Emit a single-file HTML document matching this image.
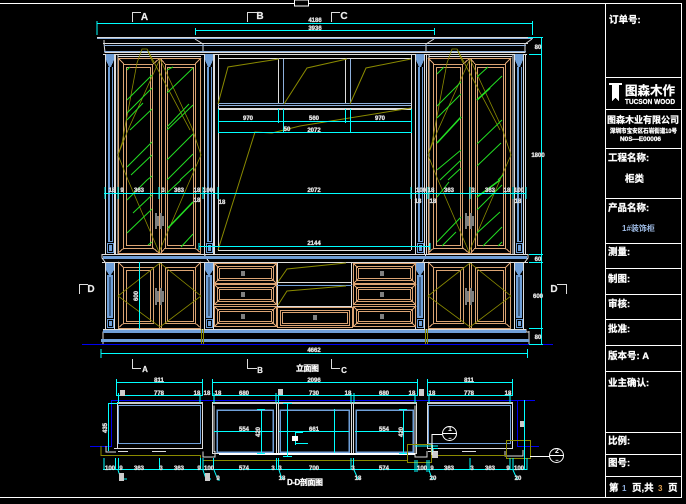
<!DOCTYPE html>
<html><head><meta charset="utf-8"><style>
html,body{margin:0;padding:0;background:#000;width:686px;height:504px;overflow:hidden}
svg{display:block}
.t{font:bold 6px "Liberation Sans",sans-serif;fill:#ddd;stroke:#ddd;stroke-width:.35;text-anchor:middle}
.s{font:bold 10px "Liberation Sans",sans-serif;fill:#eee;stroke:#eee;stroke-width:.2;text-anchor:middle}
.c{font:bold 9.500px "Liberation Sans","Noto Sans CJK SC",sans-serif;fill:#fff;stroke:#fff;stroke-width:.25}
</style></head><body>
<svg width="686" height="504" viewBox="0 0 686 504" xmlns="http://www.w3.org/2000/svg" fill="none" shape-rendering="crispEdges">
<defs>
<g id="ud">
<g stroke="#dba474">
<rect x="118.5" y="58.5" width="82" height="195"/>
<rect x="123.5" y="64.5" width="29" height="184"/><rect x="126.5" y="67.5" width="24" height="178"/>
<rect x="165.5" y="64.5" width="30" height="184"/><rect x="167.5" y="67.5" width="26" height="178"/>
<path d="M159.5 58v195M161.5 58v195M118 58l6 6M201 58l-6 6M118 253l6-5M201 253l-6-5M153 64l6-5M165 64l-4-5M153 248l6 5M165 248l-4 5"/>
</g>
<path stroke="#8a8a00" stroke-width=".8" d="M160 59L128 130L118 155L128 180L159 252L190 180L201 155L192 128L160 59M137 63L122 143L118 155M153 63L147 49H142L137 63M147 49L190 130" shape-rendering="auto"/>
<g fill="#808080"><rect x="155" y="213" width="2" height="16"/><rect x="157" y="216" width="2" height="10"/><rect x="160" y="213" width="2" height="16"/><rect x="162" y="216" width="2" height="10"/></g>
</g>
<g id="ld">
<g stroke="#dba474">
<rect x="118.5" y="262.5" width="82" height="66"/>
<rect x="123.5" y="267.5" width="30" height="56"/><rect x="126.5" y="270.5" width="24" height="51"/>
<rect x="165.5" y="267.5" width="30" height="56"/><rect x="167.5" y="270.5" width="26" height="51"/>
<path d="M159.5 262v66M161.5 262v66M118 262l6 6M201 262l-6 6M118 328l6-5M201 328l-6-5"/>
</g>
<path stroke="#8a8a00" stroke-width=".8" d="M160 263L118 296L160 327L201 296Z" shape-rendering="auto"/>
<g fill="#808080"><rect x="155" y="288" width="2" height="17"/><rect x="157" y="291" width="2" height="11"/><rect x="160" y="288" width="2" height="17"/><rect x="162" y="291" width="2" height="11"/></g>
</g>
<g id="pil">
<path stroke="#ddd" d="M105.500 54v200M114.500 54v200M105.500 262v67M114.500 262v67"/>
<path fill="#6f9fd8" d="M106 54H114V60L111 67H109L106 60Z"/>
<rect x="108" y="67" width="2" height="174" fill="#6f9fd8"/>
<path stroke="#6f9fd8" d="M112.500 67v174M108 241.500h5"/>
<rect x="107.500" y="243.500" width="6" height="9" stroke="#6f9fd8"/><rect x="109" y="245" width="3" height="6" fill="#6f9fd8"/>
<path fill="#6f9fd8" d="M106 263H114V270L111 275H109L106 270Z"/>
<rect x="107" y="275" width="6" height="43" fill="#6f9fd8"/><rect x="109.500" y="277" width="1" height="39" fill="#123"/>
<rect x="107.500" y="319.500" width="6" height="8" stroke="#6f9fd8"/><rect x="109" y="321" width="3" height="5" fill="#6f9fd8"/>
</g>
<g id="dr">
<rect x="214.500" y="263.500" width="62" height="20" stroke="#dba474"/>
<rect x="217.500" y="266.500" width="56" height="14" stroke="#dba474"/>
<rect x="219.500" y="268.500" width="52" height="10" stroke="#dba474"/>
<path stroke="#dba474" d="M214 263l5 5M277 263l-5 5M214 284l5-5M277 284l-5-5"/>
<rect x="241" y="271" width="4" height="5" fill="#808080"/>
</g>
<g id="uni">
<rect x="117.500" y="402.500" width="85" height="46" stroke="#ddd"/>
<rect x="117" y="402" width="86" height="2" fill="#ccc"/>
<rect x="118.500" y="405.500" width="82" height="38" stroke="#6f9fd8"/>
<path stroke="#ddd" d="M118 451.500h10M152 451.500h14"/>
</g>
</defs>

<!-- frame -->
<g stroke="#fff">
<path d="M0 3.500H681.500V497.500H0M605.500 3.500V497.500M605.500 77.500H681.500M605.500 109.500H681.500M605.500 148.500H681.500M605.500 198.500H681.500M605.500 243.500H681.500M605.500 268.500H681.500M605.500 294.500H681.500M605.500 319.500H681.500M605.500 345.500H681.500M605.500 371.500H681.500M605.500 432.500H681.500M605.500 454.500H681.500M605.500 476.500H681.500"/>
<rect x="294.500" y="0" width="14" height="6" fill="#000"/>
</g>

<!-- title block -->
<text class="c" x="609" y="23">订单号:</text>
<path fill="#fff" d="M609 83H622V85H619V101L615.500 98L612 101V85H609Z"/>
<text class="c" x="625" y="95" style="font-size:12.500px">图森木作</text>
<text class="c" x="625" y="104" style="font-size:7px;font-weight:bold" textLength="50" lengthAdjust="spacingAndGlyphs">TUCSON WOOD</text>
<text class="c" x="607" y="123" style="font-size:9px" textLength="72">图森木业有限公司</text>
<text class="c" x="610" y="133" style="font-size:6px" textLength="67" lengthAdjust="spacingAndGlyphs">深圳市宝安区石岩街道10号</text>
<text class="c" x="620" y="141" style="font-size:6px" textLength="41" lengthAdjust="spacingAndGlyphs">N0S—E00006</text>
<text class="c" x="608" y="161">工程名称:</text>
<text class="c" x="625" y="182">柜类</text>
<text class="c" x="608" y="211">产品名称:</text>
<text class="c" x="622" y="231" style="fill:#9fbce6;stroke:none;font-size:8px;font-weight:bold">1#装饰柜</text>
<text class="c" x="608" y="255">测量:</text>
<text class="c" x="608" y="282">制图:</text>
<text class="c" x="608" y="307">审核:</text>
<text class="c" x="608" y="332">批准:</text>
<text class="c" x="608" y="359">版本号: A</text>
<text class="c" x="608" y="386">业主确认:</text>
<text class="c" x="608" y="444">比例:</text>
<text class="c" x="608" y="466">图号:</text>
<text class="c" x="609" y="491">第</text><text class="c" x="622" y="491" style="fill:#8fb0e0;stroke:none;font-size:8px">1</text>
<text class="c" x="632" y="491">页,共</text><text class="c" x="658" y="491" style="fill:#e0a050;stroke:none;font-size:8px">3</text><text class="c" x="668" y="491">页</text>

<!-- cornice -->
<g stroke="#ddd">
<path d="M97 37.500H533M103 43.500H528M104.500 52.500H525M103 54.500H527"/>
<path d="M104 40Q104 45 105 52M195 39L203 44V53M434 39L426 44V53M532 39L525 44V53" shape-rendering="auto"/>
</g>
<g stroke="#8db0dc"><path d="M97 38.500H533M104 45.500H526M104 51.500H526"/></g>

<!-- middle upper -->
<g stroke="#ddd">
<path d="M115.500 54v200M118 54v200M214.500 54v200M218.500 54v196M411.500 54v196M426.500 54v200M429 54v200M513 54v200M525.500 54v200"/>
<path d="M218 58.500H411M218 108.500H411M218 109.500H411M218 250.500H411M118 56.500H201M429 56.500H512"/>
<path d="M278.500 59v44M345.500 59v44"/>
</g>
<g stroke="#8db0dc"><path d="M218 103.500H411M218 105.500H411M283.500 59v44M350.500 59v44"/></g>

<!-- olive glass marks -->
<g stroke="#8a8a00" shape-rendering="auto">
<path d="M218 104L228 67L279 59M284 104L307 68L347 59M350 104L366 68L411 59"/>
<path d="M218 250L255 132L272 133L300 126L411 108"/>
</g>

<!-- doors -->
<use href="#ud"/><use href="#ud" x="310"/>
<use href="#ld"/><use href="#ld" x="310"/>
<!-- green hatch -->
<path stroke="#22dd22" shape-rendering="auto" d="M127 70L130 67M127 100L152 75M127 113L152 88M127 120L143 103M130 130L152 109M127 167L152 142M131 175L152 155M147 180L152 176M127 200L147 180M133 213L152 195M127 233L152 209M148 245L152 242M167 70L173 67M167 93L193 68M167 127L189 104M167 130L193 105M167 160L193 134M167 180L193 154M180 180L193 168M167 193L181 180M168 228L193 202M181 247L193 234M437 74L444 67M437 106L461 82M437 118L461 94M437 143L461 117M437 170L461 150M440 180L461 160M448 180L461 168M477 77L488 67M477 100L502 76M477 144L502 120M477 166L501 143M498 180L503 175M437 197L449 182M477 197L500 180M477 210L502 185M437 242L461 217M442 246L456 232M477 233L500 212M483 246L502 227M498 246L502 242"/>
<path stroke="#22dd22" stroke-width="1.600" shape-rendering="auto" d="M437 143L461 117M477 100L490 88M168 228L193 202M477 197L500 180"/>

<!-- pilasters -->
<use href="#pil"/><use href="#pil" x="99"/><use href="#pil" x="310"/><use href="#pil" x="409"/>

<!-- mid band -->
<g stroke="#ddd"><path d="M102 254.500H528M102 262.500H528M102 254v4l3 4M528 254v4l-3 4M204 254l5 8M426 254l-3 8"/></g>
<rect x="103" y="256" width="424" height="3" fill="#6f9fd8"/>

<!-- drawers -->
<use href="#dr"/><use href="#dr" y="21"/><use href="#dr" y="43"/>
<use href="#dr" x="139"/><use href="#dr" x="139" y="21"/><use href="#dr" x="139" y="43"/>
<rect x="277.500" y="307.500" width="75" height="20" stroke="#dba474"/>
<rect x="280.500" y="310.500" width="69" height="15" stroke="#dba474"/>
<rect x="282.500" y="312.500" width="65" height="11" stroke="#dba474"/>
<rect x="313" y="315" width="4" height="5" fill="#808080"/>
<g stroke="#ddd"><path d="M277.500 263v44M351.500 263v44M277 282.500H352M277 306.500H352"/></g>
<path stroke="#6f9fd8" d="M277 285.500H352"/>
<path stroke="#8a8a00" shape-rendering="auto" d="M278 282L287 269L346 263M278 305L287 291L346 286"/>

<!-- base -->
<g stroke="#ddd"><path d="M103 329.500H526M103 331.500V344M529 331V344M526 329v3h3"/></g>
<rect x="103" y="330" width="423" height="3" fill="#6f9fd8"/>
<rect x="101" y="339" width="428" height="3" fill="#6f9fd8"/>
<path stroke="#8a8a00" d="M201.500 329v15M203.500 329v15M425.500 329v15M427.500 329v15"/>
<path stroke="#0000f0" stroke-width="1" d="M82 344.500H553"/>

<!-- dims elevation -->
<g stroke="#00ffff">
<path d="M97 23.500H533M97 21v14M532.500 21v14M195 30.500H434M195.500 28v7M434.500 28v7"/>
<path d="M218 121.500H411M218 132.500H411M278.500 109v14M283.500 109v24M345.500 109v14M350.500 109v24M411.500 109v24M218.500 109v24"/>
<path d="M104 193.500H526M105 187v12M118 187v12M159 187v12M203 187v12M218 187v12M411 187v12M428 187v12M470 187v12M513 187v12M526 187v12"/>
<path d="M199 246.500H430M430 243v7M199 243v7"/>
<path d="M101 353.500H528M101 349v9M527.500 349v9"/>
<path d="M541.500 37V344M528 37.500H543M529 54.500H542M529 254.500H543M529 262.500H543M529 328.500H543M529 344.500H543"/>
<path d="M139.500 262V329"/>
</g>

<!-- section marks -->
<g stroke="#ddd">
<path d="M132.500 22V12.500H141M247.500 22V12.500H257M331.500 22V12.500H340"/>
<path d="M132.500 359V368.500H141M247.500 359V368.500H257M331.500 359V368.500H340"/>
<path d="M79.500 294V284.500H88M566.500 294V284.500H557"/>
</g>
<text class="s" x="144.500" y="20">A</text><text class="s" x="260" y="19">B</text><text class="s" x="344" y="19">C</text>
<text class="s" x="145" y="372" style="font-size:8px">A</text><text class="s" x="260" y="373" style="font-size:8px">B</text><text class="s" x="344" y="373" style="font-size:8px">C</text>
<text class="s" x="91" y="292">D</text><text class="s" x="554" y="292">D</text>
<text class="c" x="296" y="371" style="font-size:8px" textLength="23">立面图</text>

<!-- dim labels -->
<g>
<text class="t" x="315" y="22">4186</text><text class="t" x="315" y="30">3936</text>
<text class="t" x="248" y="120">970</text><text class="t" x="314" y="120">560</text><text class="t" x="380" y="120">970</text>
<text class="t" x="287" y="131">50</text><text class="t" x="314" y="132">2072</text>
<text class="t" x="538" y="49">80</text><text class="t" x="538" y="157">1800</text><text class="t" x="538" y="261">60</text><text class="t" x="538" y="298">600</text><text class="t" x="538" y="339">80</text>
<text class="t" x="112" y="192">18</text><text class="t" x="122" y="192">9</text><text class="t" x="139" y="192">363</text><text class="t" x="163" y="192">3</text><text class="t" x="179" y="192">363</text><text class="t" x="197" y="192">18</text><text class="t" x="208" y="192">100</text><text class="t" x="314" y="192">2072</text>
<text class="t" x="197" y="202">18</text><text class="t" x="222" y="204">18</text><text class="t" x="314" y="245">2144</text><text class="t" x="314" y="352">4662</text>
<text class="t" x="421" y="192">100</text><text class="t" x="431" y="192">18</text><text class="t" x="449" y="192">363</text><text class="t" x="473" y="192">3</text><text class="t" x="490" y="192">363</text><text class="t" x="507" y="192">18</text><text class="t" x="519" y="192">100</text>
<text class="t" x="418" y="203">18</text><text class="t" x="433" y="203">18</text><text class="t" x="518" y="203">18</text>
<text class="t" transform="translate(138,296) rotate(-90)">600</text>
</g>

<!-- plan -->
<path stroke="#0000f0" d="M111 400.500H535M111.500 400v47M517.500 400v47M90 446.500H111M517 446.500H539"/>
<use href="#uni"/><use href="#uni" x="310"/>
<g stroke="#ddd">
<rect x="212.500" y="402.500" width="204" height="51"/>
<path d="M276.500 402v52M278.500 402v52M351.500 402v52M353.500 402v52M214 405.500V452M415 405.500V452"/>
<path d="M203 451.500V457H215V451M415 451V457H427V451M106 446v6h10M118 448.500h-4M505 451v5h18v-6M433 448v4"/>
</g>
<rect x="213" y="402" width="204" height="2" fill="#ccc"/>
<rect x="219" y="453" width="196" height="2" fill="#fff"/>
<g stroke="#6f9fd8" stroke-width="1.500">
<rect x="217" y="410" width="56" height="42"/><rect x="280" y="410" width="69" height="42"/><rect x="356" y="410" width="57" height="42"/>
</g>
<g stroke="#8a8a00">
<path d="M101 446V455.500H200.500V465M203 460.500H407M407.500 444.500H431.500V462.500H407.500ZM431 455.500H506M506.500 440.500H530.500V458.500H506.500Z"/>
</g>
<g stroke="#00ffff">
<path d="M116 382.500H203M212 382.500H417M427 382.500H512M116.500 379v17M202.500 379v17M212.500 379v17M417.500 379v17M427.500 379v17M512.500 379v17"/>
<path d="M116 395.500H203M212 395.500H417M427 395.500H512M118.500 393v10M200 393v10M214 393v10M276 393v10M278.500 393v10M351 393v10M354 393v10M415 393v10M429 393v10M510 393v10"/>
<path d="M108.500 403V451M108 403.500H118M524.500 400V470M214 431.500H273M279 431.500H349M355 431.500H413M261.500 409V453M287.500 403V456M334.500 409V453M403.500 409V453M295.500 432V445M295 443.500H308M295 432.500H303M257 409.500h8M257 453.500h8M399 409.500h8M399 453.500h8M283 403.500h9M283 456.500h9M432.500 445V455M432 448.500H438M415 446H438"/>
<path d="M103 469.500H527M104 458v12M115.500 458v12M118.500 458v12M159.500 458v12M200.500 458v12M203 458v12M213.500 458v12M276.500 458v12M278.500 458v12M351 458v12M353.500 458v12M415 460v12M417 460v12M427 460v12M429 460v12M470 458v12M510 458v12M513 458v12M527 458v12"/>
<path d="M118 470l3 9h6M203 470l3 9h5M214 470l4 10h2M279 470l3 9h3M354 470l4 9h2M429 470l3 9h3M513 470l4 9h2" shape-rendering="auto"/>
</g>
<rect x="292" y="436" width="6" height="5" fill="#fff"/>
<rect x="119" y="473" width="5" height="8" fill="#ccc"/><rect x="205" y="473" width="5" height="8" fill="#ccc"/>
<rect x="120" y="390" width="5" height="6" fill="#ccc"/><rect x="278" y="389" width="5" height="6" fill="#ccc"/><rect x="419" y="389" width="5" height="7" fill="#ccc"/>
<rect x="520" y="421" width="4" height="6" fill="#ccc"/><rect x="432" y="452" width="6" height="6" fill="#ccc"/>
<g>
<text class="t" x="159" y="382">811</text><text class="t" x="314" y="382">2096</text><text class="t" x="469" y="382">811</text>
<text class="t" x="197" y="395">18</text><text class="t" x="207" y="395">18</text><text class="t" x="218" y="395">18</text><text class="t" x="159" y="395">778</text><text class="t" x="244" y="395">680</text><text class="t" x="314" y="395">730</text><text class="t" x="348" y="395">18</text><text class="t" x="384" y="395">680</text><text class="t" x="412" y="395">18</text><text class="t" x="432" y="395">18</text><text class="t" x="469" y="395">778</text><text class="t" x="508" y="395">18</text>
<text class="t" transform="translate(107,428) rotate(-90)">435</text><text class="t" x="244" y="431">554</text><text class="t" transform="translate(260,432) rotate(-90)">420</text><text class="t" x="314" y="431">661</text><text class="t" x="384" y="431">554</text><text class="t" transform="translate(403,432) rotate(-90)">420</text>
<text class="t" x="110" y="470">100</text><text class="t" x="121" y="470">9</text><text class="t" x="139" y="470">363</text><text class="t" x="161" y="470">3</text><text class="t" x="179" y="470">363</text><text class="t" x="199" y="470">9</text><text class="t" x="209" y="470">100</text><text class="t" x="244" y="470">574</text><text class="t" x="273" y="470">3</text><text class="t" x="280" y="470">3</text><text class="t" x="314" y="470">700</text><text class="t" x="353" y="470">3</text><text class="t" x="384" y="470">574</text><text class="t" x="422" y="470">100</text><text class="t" x="432" y="470">9</text><text class="t" x="449" y="470">363</text><text class="t" x="472" y="470">3</text><text class="t" x="490" y="470">363</text><text class="t" x="508" y="470">9</text><text class="t" x="519" y="470">100</text>
<text class="t" x="218" y="480">9</text><text class="t" x="282" y="480">18</text><text class="t" x="358" y="480">18</text><text class="t" x="433" y="480">20</text><text class="t" x="518" y="480">20</text>
</g>
<!-- bubbles -->
<g stroke="#fff" shape-rendering="auto">
<circle cx="449.500" cy="433.500" r="7"/><circle cx="556.500" cy="455.500" r="7"/>
<path d="M442.500 433.500H456.500M549.500 455.500H563.500M432 455V434.500H442M530 456.500H549.500"/>
</g>
<text class="t" x="450" y="431" style="font-size:7px;stroke:none;fill:#fff">1</text><text class="t" x="557" y="453" style="font-size:7px;stroke:none;fill:#fff">2</text>
<text class="t" x="450" y="440" style="font-size:5px">–</text><text class="t" x="557" y="462" style="font-size:5px">–</text>
<text class="c" x="287" y="485" style="font-size:8px" textLength="36">D-D剖面图</text>
</svg>
</body></html>
